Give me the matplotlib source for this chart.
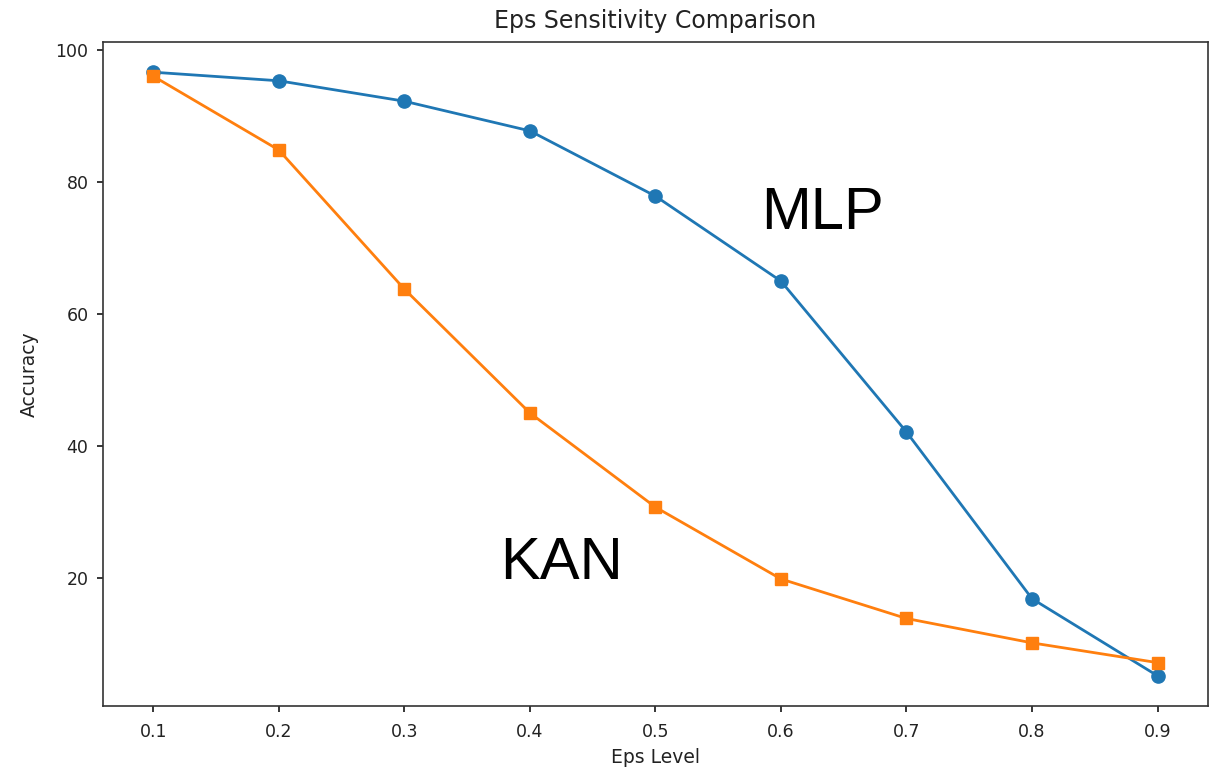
import matplotlib
matplotlib.use("Agg")
import matplotlib.pyplot as plt

# Eps levels and accuracy
eps_levels = [0.1, 0.2, 0.3, 0.4, 0.5, 0.6, 0.7, 0.8, 0.9]
mlp_acc = [96.7, 95.4, 92.3, 87.8, 77.9, 65.0, 42.1, 16.8, 5.1]
kan_acc = [96.1, 84.9, 63.8, 45.0, 30.7, 19.8, 13.8, 10.1, 7.1]

# Big in-plot labels
labels = ["MLP", "KAN"]
label_pos = [(0.633, 75.3), (0.425, 22.2)]

fig = plt.figure(figsize=(12.2, 7.71), dpi=100)
ax = fig.add_axes([0.0844, 0.0843, 0.9056, 0.8612])

ax.plot(eps_levels, mlp_acc, marker='o', color='#1f77b4', linewidth=2, markersize=9.5)
ax.plot(eps_levels, kan_acc, marker='s', color='#ff7f0e', linewidth=2, markersize=9)

for text, (x, y) in zip(labels, label_pos):
    ax.text(x, y, text, fontsize=43, family=['Liberation Sans', 'DejaVu Sans'],
            ha='center', va='center')

ax.set_xticks(eps_levels)
ax.set_xlabel("Eps Level", fontsize=13.5, labelpad=5, color='#222222')
ax.set_ylabel("Accuracy", fontsize=13.5, labelpad=12, color='#222222')
ax.set_title("Eps Sensitivity Comparison", fontsize=17, pad=10, color='#222222')
ax.tick_params(labelsize=12.5, length=4.5, width=1.1, labelcolor='#222222')
ax.tick_params(axis='x', pad=8)
ax.tick_params(axis='y', pad=6)
for spine in ax.spines.values():
    spine.set_linewidth(1.2)
    spine.set_edgecolor('#333333')

plt.savefig("out.png", dpi=100)
plt.close()
